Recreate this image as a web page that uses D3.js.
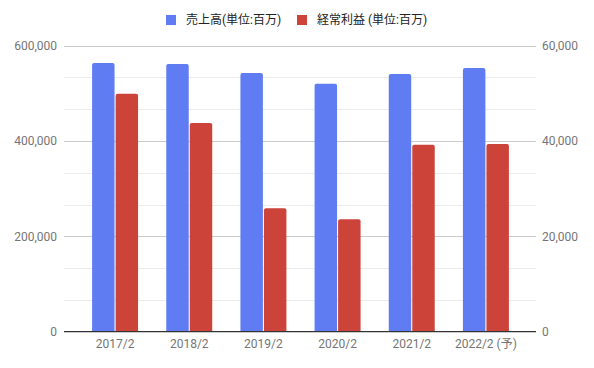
<!DOCTYPE html>
<html>
<head>
<meta charset="utf-8">
<script src="https://cdn.jsdelivr.net/npm/d3@7"></script>
<style>
  html, body { margin: 0; padding: 0; background: #fff; }
  svg { display: block; font-family: Roboto, "Noto Sans CJK JP", sans-serif; }
</style>
</head>
<body>
<svg id="chart" width="594" height="368"></svg>
<script>
const categories = ["2017/2", "2018/2", "2019/2", "2020/2", "2021/2", "2022/2 (予)"];
const seriesNames = ["売上高(単位:百万)", "経常利益 (単位:百万)"];
const sales = [563700, 561600, 542700, 520300, 540600, 553200];
const ordinaryProfit = [49900, 43800, 25900, 23600, 39200, 39400];
const leftTicks = [0, 200000, 400000, 600000];
const rightTicks = [0, 20000, 40000, 60000];
const colors = ["#5f7cf2", "#cc4339"];

const svg = d3.select("#chart");
const plotLeft = 64, plotRight = 536, plotTop = 45.7, plotBottom = 331.7;

const yL = d3.scaleLinear().domain([0, 600000]).range([plotBottom, plotTop]);
const yR = d3.scaleLinear().domain([0, 60000]).range([plotBottom, plotTop]);

const x0 = d3.scaleBand().domain(categories).range([78, 523]).paddingInner(0.38).paddingOuter(0.19);
const x1 = d3.scaleBand().domain([0, 1]).range([0, x0.bandwidth()]).paddingInner(0.045);

// gridlines (minor every 600000/9, major at labelled ticks)
const gridVals = d3.range(0, 10).map(i => i * 600000 / 9);
svg.append("g").selectAll("line").data(gridVals).join("line")
  .attr("x1", plotLeft).attr("x2", plotRight)
  .attr("y1", d => Math.round(yL(d)) + 0.5).attr("y2", d => Math.round(yL(d)) + 0.5)
  .attr("stroke", (d, i) => i % 3 === 0 ? "#cccccc" : "#ebebeb")
  .attr("stroke-width", 1);

// bars
function roundedTop(x, y, w, h, r) {
  r = Math.min(r, h, w / 2);
  return `M${x},${y + h}V${y + r}Q${x},${y} ${x + r},${y}H${x + w - r}Q${x + w},${y} ${x + w},${y + r}V${y + h}Z`;
}
const barData = [];
categories.forEach((c, i) => {
  barData.push({ c, s: 0, y: yL(sales[i]) });
  barData.push({ c, s: 1, y: yR(ordinaryProfit[i]) });
});
svg.append("g").selectAll("path").data(barData).join("path")
  .attr("d", d => roundedTop(x0(d.c) + x1(d.s), d.y, x1.bandwidth(), plotBottom - d.y, 2))
  .attr("fill", d => colors[d.s]);

// baseline
svg.append("line").attr("x1", plotLeft).attr("x2", plotRight)
  .attr("y1", 331.5).attr("y2", 331.5).attr("stroke", "#333").attr("stroke-width", 1);

// left axis labels
const fmt = d3.format(",");
svg.append("g").selectAll("text").data(leftTicks).join("text")
  .attr("x", 57).attr("y", d => yL(d)).attr("dy", "0.35em")
  .attr("text-anchor", "end").attr("font-size", 12).attr("fill", "#757575")
  .text(d => fmt(d));

// right axis labels
svg.append("g").selectAll("text").data(rightTicks).join("text")
  .attr("x", 542).attr("y", d => yR(d)).attr("dy", "0.35em")
  .attr("text-anchor", "start").attr("font-size", 12).attr("fill", "#757575")
  .text(d => fmt(d));

// x labels
svg.append("g").selectAll("text").data(categories).join("text")
  .attr("x", d => x0(d) + x0.bandwidth() / 2).attr("y", 344).attr("dy", "0.35em")
  .attr("text-anchor", "middle").attr("font-size", 12).attr("fill", "#757575")
  .text(d => d);

// legend
const legendX = [166, 297];
const lg = svg.append("g").selectAll("g").data(seriesNames).join("g")
  .attr("transform", (d, i) => `translate(${legendX[i]},20)`);
lg.append("rect").attr("x", 0).attr("y", -5).attr("width", 10).attr("height", 10)
  .attr("fill", (d, i) => colors[i]);
lg.append("text").attr("x", 20).attr("y", 0).attr("dy", "0.35em")
  .attr("font-size", 12).attr("fill", "#222").text(d => d);
</script>
</body>
</html>
